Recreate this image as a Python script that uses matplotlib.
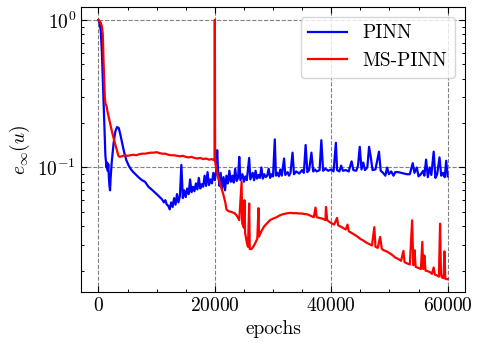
import numpy as np
import matplotlib
matplotlib.use("Agg")
import matplotlib.pyplot as plt
from matplotlib.ticker import AutoMinorLocator

# PINN error curve (epoch, e_inf)
pinn_epochs = [0, 200, 400, 600, 800, 1000, 1200, 1400, 1500, 1600, 1700, 1800, 1900, 2000,
               2100, 2300, 2600, 2900, 3200, 3500, 3800, 4100, 4400, 4800, 5200, 5600, 6000,
               6500, 7000, 7500, 8000, 8600, 9300, 10000, 10900, 11250, 11500, 11750, 12000,
               12250, 12500, 12750, 13000, 13250, 13500, 13750, 14000, 14250, 14500, 14750,
               15000, 15250, 15500, 15750, 16000, 16250, 16500, 16750, 17000, 17250, 17500,
               17750, 18000, 18250, 18500, 18750, 19000, 19250, 19500, 19750, 20000, 20250,
               20400, 20600, 20800, 21000, 21250, 21500, 21750, 22000, 22250, 22500, 22750,
               23000, 23250, 23500, 23750, 24000, 24200, 24400, 24750, 25000, 25250, 25500,
               25900, 26100, 26500, 26750, 27000, 27250, 27500, 27750, 28000, 28250, 28500,
               28750, 29000, 29250, 29500, 29750, 30000, 30300, 30500, 30750, 31000, 31250,
               31500, 31900, 32100, 32500, 32750, 33000, 33350, 33600, 34000, 34500, 35000,
               35300, 35600, 35900, 36200, 36600, 36900, 37200, 37500, 38000, 38300, 38600,
               39000, 39500, 40000, 40400, 40800, 41000, 41400, 41700, 42000, 42500, 43000,
               43500, 43800, 44300, 44600, 44900, 45200, 45500, 45800, 46200, 46500, 46800,
               47100, 47600, 48200, 48500, 48900, 49300, 49600, 49900, 50300, 50700, 51000,
               51500, 52000, 52500, 53000, 53500, 54000, 54300, 54700, 55000, 55400, 55800,
               56000, 56300, 56600, 56900, 57200, 57600, 57900, 58200, 58600, 58900, 59200,
               59500, 59750, 60000]
pinn_err = [1.0, 0.95, 0.85, 0.6, 0.35, 0.2, 0.12, 0.1, 0.108, 0.095, 0.105, 0.085, 0.075, 0.07,
            0.085, 0.11, 0.145, 0.175, 0.188, 0.185, 0.165, 0.145, 0.128, 0.112, 0.103, 0.097, 0.093,
            0.089, 0.085, 0.082, 0.080, 0.074, 0.070, 0.066, 0.061, 0.058, 0.060, 0.056, 0.055,
            0.052, 0.058, 0.054, 0.062, 0.056, 0.066, 0.058, 0.064, 0.104, 0.062, 0.070,
            0.063, 0.072, 0.066, 0.083, 0.068, 0.074, 0.069, 0.078, 0.071, 0.085, 0.072,
            0.077, 0.074, 0.088, 0.075, 0.093, 0.076, 0.083, 0.078, 0.092, 0.082, 0.095,
            0.131, 0.088, 0.075, 0.092, 0.072, 0.086, 0.070, 0.088, 0.078, 0.095, 0.080,
            0.088, 0.079, 0.098, 0.081, 0.085, 0.118, 0.082, 0.090, 0.080, 0.087, 0.082,
            0.116, 0.083, 0.092, 0.082, 0.095, 0.084, 0.089, 0.085, 0.100, 0.084, 0.090,
            0.086, 0.088, 0.098, 0.085, 0.090, 0.087, 0.155, 0.088, 0.092, 0.087, 0.097,
            0.088, 0.115, 0.089, 0.093, 0.088, 0.092, 0.126, 0.090, 0.094, 0.091, 0.096,
            0.092, 0.142, 0.093, 0.096, 0.126, 0.094, 0.097, 0.094, 0.096, 0.153, 0.095,
            0.098, 0.095, 0.097, 0.094, 0.147, 0.096, 0.094, 0.103, 0.095, 0.096, 0.094,
            0.110, 0.096, 0.095, 0.103, 0.138, 0.097, 0.108, 0.096, 0.100, 0.138, 0.117,
            0.096, 0.097, 0.128, 0.095, 0.092, 0.088, 0.100, 0.090, 0.094, 0.088, 0.093,
            0.093, 0.092, 0.091, 0.090, 0.090, 0.107, 0.092, 0.100, 0.087, 0.090, 0.095,
            0.088, 0.113, 0.086, 0.100, 0.089, 0.128, 0.085, 0.090, 0.117, 0.088, 0.092,
            0.086, 0.111, 0.087]

# MS-PINN error curve
ms_epochs = [0, 200, 400, 600, 750, 900, 1100, 1200, 1400, 1600, 2000, 2400, 2800, 3200, 3400,
             3600, 4000, 4500, 5000, 5500, 6000, 6500, 7000, 7500, 8000, 8500, 9000, 9500,
             10000, 10500, 11000, 11500, 12000, 12500, 13000, 13500, 14000, 14500, 15000,
             15500, 16000, 16500, 17000, 17500, 18000, 18500, 19000, 19500, 19800, 19950,
             20000, 20050, 20300, 20700, 21000, 21400, 21800, 22000, 22300, 22800, 23400,
             23800, 24200, 24600, 24700, 25000, 25100, 25200, 25500, 25700, 25900, 26000,
             26300, 26600, 27000, 27300, 27500, 27600, 28000, 28500, 29000, 29500, 30000,
             30600, 31000, 31500, 32000, 32500, 33000, 33500, 34000, 34500, 35000, 35500,
             36000, 36500, 37000, 37300, 37500, 38000, 38500, 39000, 39100, 39300, 39700,
             40000, 40500, 41000, 41200, 41500, 42000, 42500, 42800, 43000, 43500, 44000,
             44500, 45000, 45500, 46000, 46500, 47000, 47400, 47600, 48000, 48400, 48700,
             49000, 49500, 50000, 50500, 51000, 51500, 52000, 52400, 52600, 53000, 53500,
             53900, 54100, 54300, 54500, 55000, 55400, 55650, 55800, 56000, 56200, 56600,
             57000, 57300, 57600, 57800, 58200, 58500, 58700, 58850, 59000, 59300, 59450,
             59600, 59800, 60000]
ms_err = [1.0, 0.98, 0.96, 0.9, 0.8, 0.5, 0.3, 0.272, 0.26, 0.235, 0.20, 0.17, 0.148, 0.13, 0.121,
          0.118, 0.119, 0.121, 0.120, 0.121, 0.122, 0.121, 0.123, 0.124, 0.124, 0.125, 0.126, 0.126,
          0.127, 0.125, 0.124, 0.124, 0.122, 0.121, 0.121, 0.120, 0.119, 0.120, 0.118,
          0.117, 0.118, 0.116, 0.115, 0.116, 0.114, 0.115, 0.113, 0.114, 0.112, 0.115,
          1.0, 0.11, 0.095, 0.083, 0.075, 0.067, 0.058, 0.052, 0.0507, 0.050, 0.049,
          0.047, 0.044, 0.080, 0.042, 0.039, 0.060, 0.036, 0.031, 0.029, 0.057, 0.028,
          0.028, 0.029, 0.031, 0.033, 0.053, 0.034, 0.037, 0.040, 0.042, 0.044, 0.045,
          0.046, 0.047, 0.048, 0.0485, 0.049, 0.0492, 0.049, 0.049, 0.0488, 0.0487, 0.0483,
          0.048, 0.047, 0.046, 0.0535, 0.046, 0.0455, 0.045, 0.044, 0.054, 0.044, 0.0427,
          0.042, 0.041, 0.0455, 0.0405, 0.040, 0.039, 0.038, 0.041, 0.037, 0.036, 0.035,
          0.034, 0.0328, 0.032, 0.031, 0.0303, 0.0296, 0.0394, 0.029, 0.0285, 0.0338, 0.028,
          0.0275, 0.027, 0.0263, 0.0255, 0.0245, 0.024, 0.0233, 0.0272, 0.0228, 0.0224, 0.022,
          0.0438, 0.0218, 0.0275, 0.0212, 0.0208, 0.0205, 0.0313, 0.0205, 0.0253, 0.020, 0.0198,
          0.0195, 0.019, 0.021, 0.0188, 0.0185, 0.0182, 0.0416, 0.019, 0.018, 0.0178, 0.027,
          0.0176, 0.0175, 0.0175]

plt.rcParams["font.family"] = "serif"
plt.rcParams["font.serif"] = ["cmr10"]
plt.rcParams["mathtext.fontset"] = "cm"
plt.rcParams["axes.formatter.use_mathtext"] = True
plt.rcParams["font.size"] = 14

fig = plt.figure(figsize=(4.79, 3.49), dpi=100)
ax = fig.add_axes([0.169, 0.163, 0.802, 0.817])

ax.plot(pinn_epochs, pinn_err, color="blue", lw=1.6, label="PINN")
ax.plot(ms_epochs, ms_err, color="red", lw=1.6, label="MS-PINN")
ax.set_yscale("log")
ax.set_xticks([0, 20000, 40000, 60000])
ax.xaxis.set_minor_locator(AutoMinorLocator(4))

ax.grid(True, which="major", ls="--", color="gray", lw=0.8)
ax.tick_params(which="both", direction="in", top=True, right=True)
ax.tick_params(which="major", length=4, width=0.8)
ax.tick_params(which="minor", length=2.2, width=0.7)

ax.set_xlabel("epochs")
ax.set_ylabel(r"$e_\infty(u)$")
ax.legend(loc="upper right", fontsize=14)

fig.savefig("out.png", dpi=100)
